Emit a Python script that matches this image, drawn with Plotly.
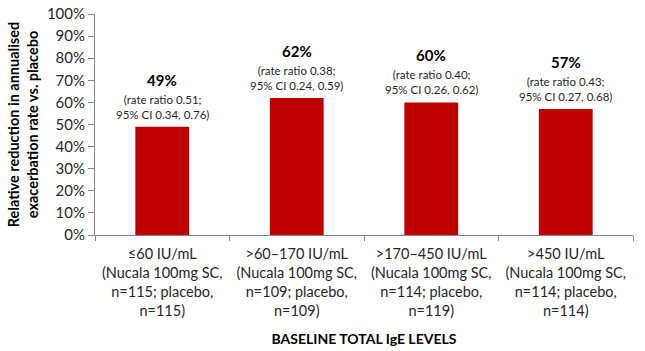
import plotly.graph_objects as go

categories = ["≤60 IU/mL", ">60–170 IU/mL", ">170–450 IU/mL", ">450 IU/mL"]
nucala_n = [115, 109, 114, 114]
placebo_n = [115, 109, 119, 114]
reduction = [0.49, 0.62, 0.60, 0.57]
rate_ratio = ["0.51", "0.38", "0.40", "0.43"]
ci = ["0.34, 0.76", "0.24, 0.59", "0.26, 0.62", "0.27, 0.68"]
y_ticks = [0, 0.1, 0.2, 0.3, 0.4, 0.5, 0.6, 0.7, 0.8, 0.9, 1.0]

FONT = "Lato"
tick_text = [
    f"{c}<br>(Nucala 100mg SC,<br>n={n1}; placebo,<br>n={n2})"
    for c, n1, n2 in zip(categories, nucala_n, placebo_n)
]

fig = go.Figure()
fig.add_trace(go.Bar(
    x=categories, y=reduction,
    marker=dict(color="#C00000", line=dict(width=0)),
    hoverinfo="skip",
))

for c, v, rr, cc in zip(categories, reduction, rate_ratio, ci):
    fig.add_annotation(
        x=c, y=v, yref="y", xref="x",
        text=f"(rate ratio {rr};<br>95% CI {cc})",
        showarrow=False, yanchor="bottom", yshift=4,
        font=dict(family=FONT, size=11.5, color="#262626"),
        align="center",
    )
    fig.add_annotation(
        x=c, y=v, yref="y", xref="x",
        text=f"<b>{round(v*100)}%</b>",
        showarrow=False, yanchor="middle", yshift=47,
        font=dict(family=FONT, size=15, color="black"),
        align="center",
    )

fig.update_layout(
    width=645, height=351,
    margin=dict(l=95, r=12, t=14, b=116, pad=0),
    paper_bgcolor="white", plot_bgcolor="white",
    bargap=0.6,
    showlegend=False,
    font=dict(family=FONT, color="#262626"),
)
fig.update_xaxes(
    automargin=False,
    tickmode="array", tickvals=categories, ticktext=tick_text,
    tickson="boundaries", ticks="outside", ticklen=5, tickcolor="#868686",
    ticklabelstandoff=6,
    showline=True, linecolor="#868686", linewidth=1,
    tickfont=dict(family=FONT, size=14.5, color="#262626"),
    title=dict(text="<b>BASELINE TOTAL IgE LEVELS</b>",
               font=dict(family=FONT, size=14, color="black"), standoff=16),
    showgrid=False,
)
fig.update_yaxes(
    automargin=False,
    range=[0, 1], tickvals=y_ticks, tickformat=".0%",
    ticks="outside", ticklen=6, tickcolor="#868686",
    showline=True, linecolor="#868686", linewidth=1,
    tickfont=dict(family=FONT, size=15, color="#262626"),
    showgrid=False, zeroline=False,
    title=dict(text="<b>Relative reduction in annualised<br>exacerbation rate vs. placebo</b>",
               font=dict(family=FONT, size=14.5, color="black"), standoff=4),
)

fig.write_html("out.html")
